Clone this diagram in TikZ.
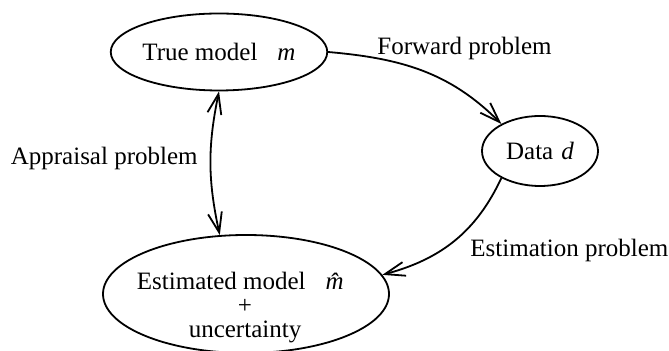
\documentclass[tikz,border=0pt]{standalone}
\usepackage{fontspec}
\setmainfont{Liberation Serif}
\usetikzlibrary{arrows.meta,shapes.geometric}

\begin{document}
\begin{tikzpicture}[x=0.5pt,y=-0.5pt,
        every node/.style={font=\fontsize{12.5}{12}\selectfont},
        blob/.style={draw,ellipse,line width=0.9pt,inner sep=0pt},
        tag/.style={inner sep=0pt},
        >={Straight Barb[length=10pt,width=7pt]},
        link/.style={line width=0.9pt}]
    \useasboundingbox (0,0) rectangle (669,351);

    \node[blob,minimum width=94pt,minimum height=38.5pt] (true) at (219,52) {True model\hspace{10pt}\textit{m}};
    \node[blob,minimum width=58pt,minimum height=35pt] (data) at (540,151) {Data\hspace{4pt}\textit{d}};
    \node[blob,minimum width=143pt,minimum height=59pt] (est) at (246,294) {};
    \node[align=center] (esttext) at (245,308) {Estimated model\hspace{10pt}\textit{\^{m}}\\+\\uncertainty};

    \node[tag,anchor=base west] (fwd) at (377,55) {Forward problem};
    \node[tag,anchor=base east] (appr) at (198,165) {Appraisal problem};
    \node[tag,anchor=base west] (estim) at (470,257) {Estimation problem};

    \draw[link,->] (true.east) to[out=-5,in=135] (data.145);
    \draw[link,->] (data.215) to[out=-115,in=15] (est.8);
    \draw[link,<->] (true.south) to[bend right=12] (est.114);

\end{tikzpicture}
\end{document}
